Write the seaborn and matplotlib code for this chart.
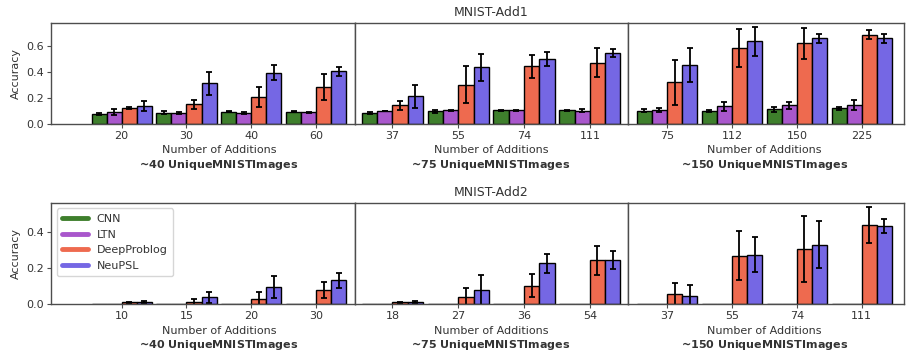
import numpy as np
import pandas as pd
import seaborn as sns
import matplotlib.pyplot as plt
from matplotlib.lines import Line2D

models = ['CNN', 'LTN', 'DeepProblog', 'NeuPSL']
colors = ['#3e7f2c', '#a957cc', '#ee6a4f', '#7567e4']

# MNIST-Add1 : number of additions per panel
add1_adds = [[20, 30, 40, 60], [37, 55, 74, 111], [75, 112, 150, 225]]
# accuracy per model (rows) x additions (cols), one block per panel
add1_acc = [
    [[0.077, 0.087, 0.095, 0.095],
     [0.092, 0.085, 0.085, 0.090],
     [0.123, 0.151, 0.205, 0.287],
     [0.138, 0.313, 0.397, 0.408]],
    [[0.085, 0.097, 0.105, 0.105],
     [0.100, 0.105, 0.105, 0.103],
     [0.144, 0.305, 0.446, 0.474],
     [0.213, 0.438, 0.505, 0.549]],
    [[0.103, 0.103, 0.113, 0.120],
     [0.110, 0.136, 0.144, 0.144],
     [0.323, 0.590, 0.623, 0.690],
     [0.456, 0.641, 0.664, 0.664]],
]
add1_err = [
    [[0.010, 0.010, 0.005, 0.005],
     [0.023, 0.005, 0.010, 0.003],
     [0.010, 0.037, 0.077, 0.100],
     [0.040, 0.090, 0.060, 0.035]],
    [[0.010, 0.013, 0.005, 0.005],
     [0.003, 0.005, 0.005, 0.012],
     [0.037, 0.140, 0.087, 0.114],
     [0.090, 0.104, 0.054, 0.028]],
    [[0.010, 0.008, 0.020, 0.010],
     [0.015, 0.035, 0.025, 0.040],
     [0.173, 0.147, 0.120, 0.036],
     [0.132, 0.113, 0.036, 0.035]],
]

# MNIST-Add2
add2_adds = [[10, 15, 20, 30], [18, 27, 36, 54], [37, 55, 74, 111]]
add2_acc = [
    [[0.003, 0.003, 0.003, 0.004],
     [0.003, 0.003, 0.003, 0.004],
     [0.013, 0.013, 0.031, 0.078],
     [0.013, 0.039, 0.098, 0.133]],
    [[0.002, 0.002, 0.003, 0.004],
     [0.002, 0.002, 0.003, 0.004],
     [0.011, 0.043, 0.104, 0.243],
     [0.013, 0.078, 0.226, 0.243]],
    [[0.003, 0.003, 0.003, 0.003],
     [0.003, 0.003, 0.003, 0.003],
     [0.056, 0.269, 0.304, 0.437],
     [0.048, 0.274, 0.328, 0.431]],
]
add2_err = [
    [[0.0, 0.0, 0.0, 0.0],
     [0.0, 0.0, 0.0, 0.0],
     [0.003, 0.018, 0.040, 0.044],
     [0.005, 0.032, 0.061, 0.042]],
    [[0.0, 0.0, 0.0, 0.0],
     [0.0, 0.0, 0.0, 0.0],
     [0.003, 0.045, 0.061, 0.080],
     [0.004, 0.082, 0.051, 0.049]],
    [[0.0, 0.0, 0.0, 0.0],
     [0.0, 0.0, 0.0, 0.0],
     [0.060, 0.133, 0.183, 0.100],
     [0.058, 0.095, 0.128, 0.040]],
]

unique_imgs = ['40', '75', '150']
titles = ['MNIST-Add1', 'MNIST-Add2']

sns.set_style('ticks')
plt.rcParams.update({'font.size': 8, 'text.color': '0.2', 'axes.labelcolor': '0.2',
                     'xtick.color': '0.3', 'ytick.color': '0.3', 'axes.edgecolor': '0.3',
                     'xtick.labelcolor': '0.2', 'ytick.labelcolor': '0.2'})
plt.rcParams['font.family'] = ['DejaVu Sans']

fig = plt.figure(figsize=(9.22, 3.54), dpi=100)
xlims = [(-1.09, 3.6), (-0.57, 3.58), (-0.6, 3.65)]
row_box = [(0.650, 0.936), (0.140, 0.427)]

for r, (adds_all, acc_all, err_all) in enumerate([(add1_adds, add1_acc, add1_err),
                                                   (add2_adds, add2_acc, add2_err)]):
    gs = fig.add_gridspec(1, 3, left=51/922, right=904/922, bottom=row_box[r][0], top=row_box[r][1],
                          wspace=0, width_ratios=[304, 273, 276])
    first = None
    top = 0
    for p in range(3):
        ax = fig.add_subplot(gs[0, p], sharey=first)
        if first is None:
            first = ax
        rows = []
        for m, model in enumerate(models):
            for k, a in enumerate(adds_all[p]):
                rows.append({'adds': a, 'model': model, 'acc': acc_all[p][m][k], 'err': err_all[p][m][k]})
        df = pd.DataFrame(rows)
        top = max(top, (df['acc'] + df['err']).max())
        sns.barplot(data=df, x='adds', y='acc', hue='model', hue_order=models, order=adds_all[p],
                    palette=colors, saturation=1, width=0.93, gap=0, edgecolor='black', linewidth=1,
                    errorbar=None, legend=False, ax=ax)
        # error bars on the bar centres (patches come hue by hue)
        for patch, (_, row) in zip(ax.patches, df.iterrows()):
            if row['err'] > 0:
                cx = patch.get_x() + patch.get_width() / 2
                ax.errorbar(cx, patch.get_height(), yerr=row['err'], color='black',
                            capsize=2, elinewidth=1.3, capthick=1.3, fmt='none')
        ax.set_xlim(*xlims[p])
        # labels centred under the groups rather than the axes
        xc = (1.5 - xlims[p][0]) / (xlims[p][1] - xlims[p][0])
        ax.set_xlabel('Number of Additions')
        ax.xaxis.set_label_coords(xc, -0.21)
        ax.annotate('~' + r'$\bf{' + unique_imgs[p] + r'\ Unique MNIST Images}$',
                    xy=(xc, 0), xycoords='axes fraction', xytext=(0, -29.5),
                    textcoords='offset points', ha='center', va='center', fontweight='bold')
        ax.tick_params(length=3, pad=2)
        for s in ax.spines.values():
            s.set_visible(True)
            s.set_linewidth(1)
        if p == 0:
            ax.set_ylabel('Accuracy')
        else:
            ax.set_ylabel('')
            ax.tick_params(axis='y', left=False, labelleft=False)
        if p == 1:
            ax.set_title(titles[r], fontsize=9, pad=5)
        if r == 1 and p == 0:
            handles = [Line2D([0], [0], color=c, lw=3.5) for c in colors]
            ax.legend(handles, models, loc='upper left', frameon=True, handlelength=2.3,
                      labelspacing=0.5, borderpad=0.5, fontsize=8)
    first.set_ylim(0, top * 1.04)
    if r == 0:
        first.set_yticks([0.0, 0.2, 0.4, 0.6])
    else:
        first.set_yticks([0.0, 0.2, 0.4])

fig.savefig('out.png', dpi=100)
